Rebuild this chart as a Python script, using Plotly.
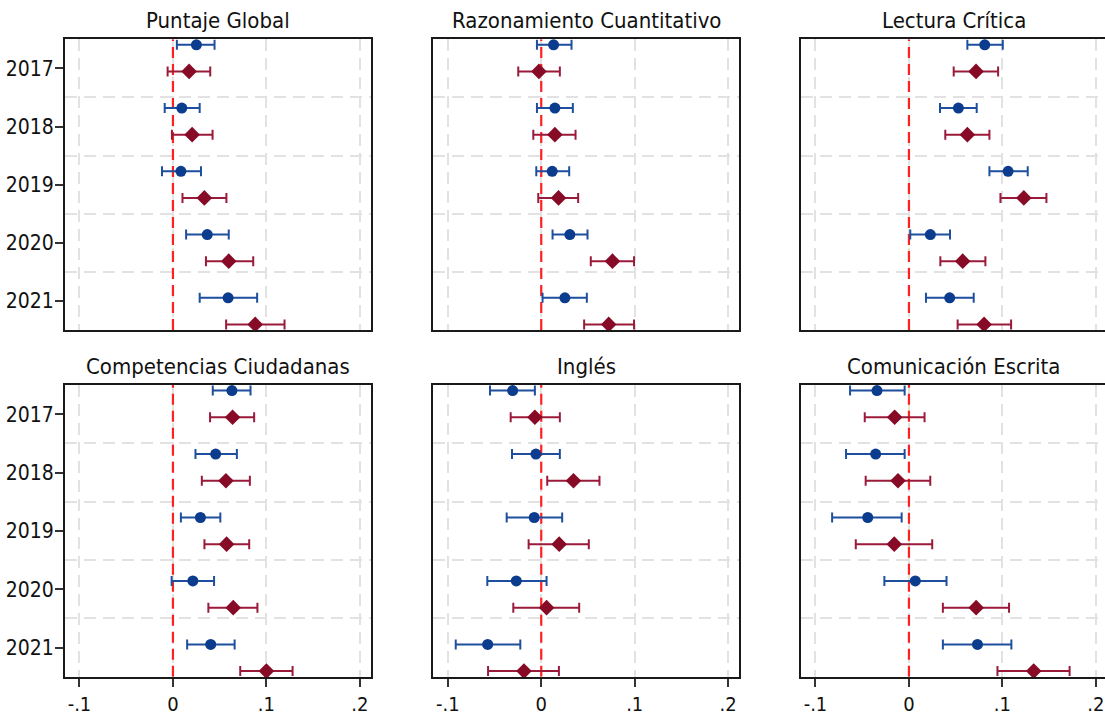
import plotly.graph_objects as go

# ---------------------------------------------------------------- data
years = ["2017", "2018", "2019", "2020", "2021"]
panel_titles = [
    "Puntaje Global",
    "Razonamiento Cuantitativo",
    "Lectura Crítica",
    "Competencias Ciudadanas",
    "Inglés",
    "Comunicación Escrita",
]
x_tick_values = [-0.1, 0.0, 0.1, 0.2]
x_tick_labels = ["-.1", "0", ".1", ".2"]

# Puntaje Global
global_blue = [0.0251, 0.0095, 0.0085, 0.0367, 0.0590]
global_blue_lo = [0.0042, -0.0088, -0.0117, 0.0141, 0.0286]
global_blue_hi = [0.0445, 0.0286, 0.0300, 0.0597, 0.0901]
global_red = [0.0173, 0.0205, 0.0336, 0.0597, 0.0880]
global_red_lo = [-0.0057, -0.0011, 0.0102, 0.0353, 0.0569]
global_red_hi = [0.0399, 0.0424, 0.0572, 0.0859, 0.1194]

# Razonamiento Cuantitativo
quant_blue = [0.0132, 0.0146, 0.0117, 0.0306, 0.0253]
quant_blue_lo = [-0.0046, -0.0046, -0.0053, 0.0121, 0.0014]
quant_blue_hi = [0.0324, 0.0338, 0.0299, 0.0495, 0.0488]
quant_red = [-0.0025, 0.0146, 0.0185, 0.0762, 0.0722]
quant_red_lo = [-0.0246, -0.0085, -0.0032, 0.0530, 0.0459]
quant_red_hi = [0.0199, 0.0367, 0.0395, 0.0993, 0.0993]

# Lectura Crítica
reading_blue = [0.0811, 0.0529, 0.1061, 0.0229, 0.0436]
reading_blue_lo = [0.0625, 0.0332, 0.0861, 0.0014, 0.0182]
reading_blue_hi = [0.1004, 0.0725, 0.1271, 0.0439, 0.0693]
reading_red = [0.0718, 0.0625, 0.1229, 0.0575, 0.0804]
reading_red_lo = [0.0479, 0.0389, 0.0979, 0.0336, 0.0521]
reading_red_hi = [0.0954, 0.0861, 0.1471, 0.0818, 0.1093]

# Competencias Ciudadanas
civic_blue = [0.0631, 0.0457, 0.0294, 0.0213, 0.0404]
civic_blue_lo = [0.0426, 0.0241, 0.0085, -0.0014, 0.0152]
civic_blue_hi = [0.0830, 0.0684, 0.0507, 0.0440, 0.0660]
civic_red = [0.0638, 0.0567, 0.0574, 0.0645, 0.1000]
civic_red_lo = [0.0397, 0.0309, 0.0337, 0.0379, 0.0720]
civic_red_hi = [0.0869, 0.0823, 0.0816, 0.0904, 0.1280]

# Inglés
english_blue = [-0.0306, -0.0057, -0.0075, -0.0267, -0.0573]
english_blue_lo = [-0.0548, -0.0313, -0.0370, -0.0577, -0.0915]
english_blue_hi = [-0.0068, 0.0199, 0.0224, 0.0057, -0.0224]
english_red = [-0.0068, 0.0345, 0.0192, 0.0057, -0.0185]
english_red_lo = [-0.0327, 0.0064, -0.0135, -0.0299, -0.0569]
english_red_hi = [0.0199, 0.0623, 0.0509, 0.0406, 0.0189]

# Comunicación Escrita
writing_blue = [-0.0342, -0.0356, -0.0441, 0.0068, 0.0733]
writing_blue_lo = [-0.0630, -0.0673, -0.0822, -0.0263, 0.0363]
writing_blue_hi = [-0.0046, -0.0046, -0.0078, 0.0402, 0.1096]
writing_red = [-0.0153, -0.0117, -0.0157, 0.0719, 0.1335]
writing_red_lo = [-0.0473, -0.0463, -0.0569, 0.0363, 0.0947]
writing_red_hi = [0.0167, 0.0228, 0.0249, 0.1071, 0.1719]

panel_series = [
    (global_blue, global_blue_lo, global_blue_hi, global_red, global_red_lo, global_red_hi),
    (quant_blue, quant_blue_lo, quant_blue_hi, quant_red, quant_red_lo, quant_red_hi),
    (reading_blue, reading_blue_lo, reading_blue_hi, reading_red, reading_red_lo, reading_red_hi),
    (civic_blue, civic_blue_lo, civic_blue_hi, civic_red, civic_red_lo, civic_red_hi),
    (english_blue, english_blue_lo, english_blue_hi, english_red, english_red_lo, english_red_hi),
    (writing_blue, writing_blue_lo, writing_blue_hi, writing_red, writing_red_lo, writing_red_hi),
]

# ---------------------------------------------------------------- layout
W, H = 1105, 717
FONT = "DejaVu Sans Condensed, Liberation Sans Narrow, sans-serif"
BLUE, BLUE_BAR = "#0B3C8D", "#1E4E9E"
RED, RED_BAR = "#870A26", "#9A1A3A"
ZERO_RED = "#FF2020"
GRID = "#E2E2E2"
FRAME = "#1A1A1A"

PX_PER_UNIT = 934.6
X_MIN = -0.1155
PANEL_W = 305.6
col_left = [65.0, 433.3, 801.0]
row_top = [(39.3, 330.0), (385.0, 676.7)]
Y_RANGE = [4.5, -0.5]

# vertical slot layout of the two estimates inside each year group
SLOT_START, SLOT_STEP, RED_OFFSET = -0.405, 1.088, 0.457

fig = go.Figure()

for k in range(6):
    r, c = divmod(k, 3)
    sfx = "" if k == 0 else str(k + 1)
    xa, ya = "x" + sfx, "y" + sfx
    b, b_lo, b_hi, rd, r_lo, r_hi = panel_series[k]

    pos_blue = [SLOT_START + SLOT_STEP * i for i in range(len(years))]
    pos_red = [p + RED_OFFSET for p in pos_blue]

    # reference line at zero, drawn beneath the estimates
    fig.add_trace(go.Scatter(
        x=[0, 0], y=Y_RANGE, mode="lines", xaxis=xa, yaxis=ya,
        hoverinfo="skip", showlegend=False,
        line=dict(color=ZERO_RED, width=2.2, dash="11px,6px"),
    ))
    fig.add_trace(go.Scatter(
        x=b, y=pos_blue, mode="markers", xaxis=xa, yaxis=ya,
        name="Estimación 1", showlegend=False, cliponaxis=False,
        marker=dict(symbol="circle", size=11, color=BLUE),
        error_x=dict(type="data", symmetric=False,
                     array=[h - e for h, e in zip(b_hi, b)],
                     arrayminus=[e - l for e, l in zip(b, b_lo)],
                     color=BLUE_BAR, thickness=2, width=5),
    ))
    fig.add_trace(go.Scatter(
        x=rd, y=pos_red, mode="markers", xaxis=xa, yaxis=ya,
        name="Estimación 2", showlegend=False, cliponaxis=False,
        marker=dict(symbol="diamond", size=12, color=RED),
        error_x=dict(type="data", symmetric=False,
                     array=[h - e for h, e in zip(r_hi, rd)],
                     arrayminus=[e - l for e, l in zip(rd, r_lo)],
                     color=RED_BAR, thickness=2, width=5),
    ))

    left = col_left[c]
    right = min(left + PANEL_W, W)
    x_max = X_MIN + (right - left) / PX_PER_UNIT
    top, bottom = row_top[r]
    xdom = [left / W, right / W]
    ydom = [1 - bottom / H, 1 - top / H]
    bottom_row = r == 1
    left_col = c == 0
    last_col = c == 2

    fig.layout["xaxis" + sfx] = dict(
        domain=xdom, range=[X_MIN, x_max], anchor=ya,
        tickvals=x_tick_values, ticktext=x_tick_labels,
        showticklabels=bottom_row, ticks="outside" if bottom_row else "",
        ticklen=8, tickwidth=1.5, tickcolor="#333333",
        showgrid=True, gridcolor=GRID, gridwidth=1.5, griddash="12px,7px",
        zeroline=False, showline=True, linecolor=FRAME, linewidth=2,
        mirror=True, tickfont=dict(family=FONT, size=20, color="#111111"),
        fixedrange=True,
    )
    fig.layout["yaxis" + sfx] = dict(
        domain=ydom, range=Y_RANGE, anchor=xa,
        tickvals=list(range(len(years))), ticktext=years,
        showticklabels=left_col, ticks="outside" if left_col else "",
        ticklen=8, tickwidth=1.5, tickcolor="#333333",
        ticklabelstandoff=-3,
        showgrid=False, zeroline=False,
        showline=True, linecolor=FRAME, linewidth=2,
        mirror=not last_col,
        minor=dict(tickmode="array", tickvals=[0.5, 1.5, 2.5, 3.5],
                   showgrid=True, gridcolor=GRID, gridwidth=1.5,
                   griddash="12px,7px", ticks=""),
        tickfont=dict(family=FONT, size=21, color="#111111"),
        fixedrange=True,
    )

    # panel title
    fig.add_annotation(text=panel_titles[k], xref="paper", yref="paper",
                       x=(left + (left + PANEL_W)) / 2 / W, y=ydom[1],
                       xanchor="center", yanchor="bottom", yshift=4,
                       showarrow=False,
                       font=dict(family=FONT, size=22, color="#111111"))

fig.update_layout(
    width=W, height=H,
    margin=dict(l=0, r=0, t=0, b=0),
    paper_bgcolor="white", plot_bgcolor="white",
    showlegend=False,
)

fig.write_html("out.html", config={"displayModeBar": False})
